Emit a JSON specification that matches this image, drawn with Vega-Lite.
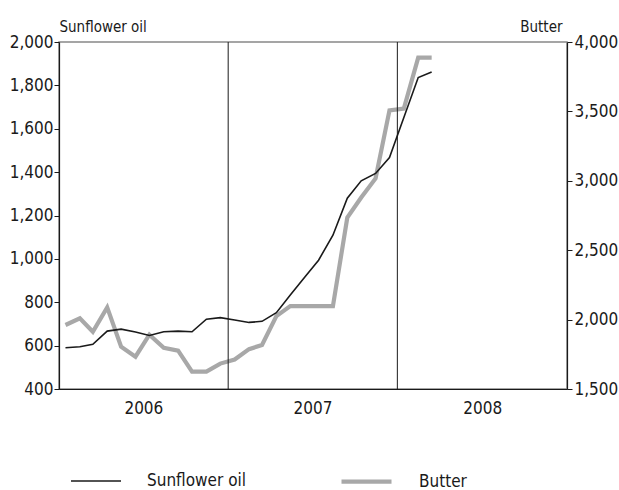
{
  "$schema": "https://vega.github.io/schema/vega-lite/v6.json",
  "width": 508,
  "height": 347,
  "autosize": {"type": "none"},
  "padding": {"left": 59, "top": 42, "right": 52, "bottom": 101},
  "background": "white",
  "config": {
    "font": "DejaVu Sans Condensed",
    "view": {"stroke": "#888888", "strokeWidth": 1.5},
    "axis": {
      "grid": false,
      "labelFont": "DejaVu Sans Condensed",
      "labelFontSize": 17,
      "labelColor": "#1a1a1a",
      "domainColor": "#1a1a1a",
      "domainWidth": 1.2,
      "tickColor": "#1a1a1a",
      "tickSize": 5,
      "titleFont": "DejaVu Sans Condensed",
      "titleFontSize": 15,
      "titleFontWeight": "normal",
      "titleColor": "#1a1a1a"
    }
  },
  "datasets": {
    "prices": [
      {"date": "2006-01-15T00:00:00", "series": "Sunflower oil", "value": 590},
      {"date": "2006-02-15T00:00:00", "series": "Sunflower oil", "value": 595},
      {"date": "2006-03-15T00:00:00", "series": "Sunflower oil", "value": 606},
      {"date": "2006-04-15T00:00:00", "series": "Sunflower oil", "value": 667},
      {"date": "2006-05-15T00:00:00", "series": "Sunflower oil", "value": 676},
      {"date": "2006-06-15T00:00:00", "series": "Sunflower oil", "value": 663},
      {"date": "2006-07-15T00:00:00", "series": "Sunflower oil", "value": 647},
      {"date": "2006-08-15T00:00:00", "series": "Sunflower oil", "value": 664},
      {"date": "2006-09-15T00:00:00", "series": "Sunflower oil", "value": 667},
      {"date": "2006-10-15T00:00:00", "series": "Sunflower oil", "value": 664},
      {"date": "2006-11-15T00:00:00", "series": "Sunflower oil", "value": 722},
      {"date": "2006-12-15T00:00:00", "series": "Sunflower oil", "value": 729},
      {"date": "2007-01-15T00:00:00", "series": "Sunflower oil", "value": 718},
      {"date": "2007-02-15T00:00:00", "series": "Sunflower oil", "value": 707},
      {"date": "2007-03-15T00:00:00", "series": "Sunflower oil", "value": 712},
      {"date": "2007-04-15T00:00:00", "series": "Sunflower oil", "value": 752},
      {"date": "2007-05-15T00:00:00", "series": "Sunflower oil", "value": 833},
      {"date": "2007-06-15T00:00:00", "series": "Sunflower oil", "value": 915},
      {"date": "2007-07-15T00:00:00", "series": "Sunflower oil", "value": 994},
      {"date": "2007-08-15T00:00:00", "series": "Sunflower oil", "value": 1109},
      {"date": "2007-09-15T00:00:00", "series": "Sunflower oil", "value": 1280},
      {"date": "2007-10-15T00:00:00", "series": "Sunflower oil", "value": 1360},
      {"date": "2007-11-15T00:00:00", "series": "Sunflower oil", "value": 1394},
      {"date": "2007-12-15T00:00:00", "series": "Sunflower oil", "value": 1467},
      {"date": "2008-01-15T00:00:00", "series": "Sunflower oil", "value": 1652},
      {"date": "2008-02-15T00:00:00", "series": "Sunflower oil", "value": 1836},
      {"date": "2008-03-15T00:00:00", "series": "Sunflower oil", "value": 1862},
      {"date": "2006-01-15T00:00:00", "series": "Butter", "value": 1961},
      {"date": "2006-02-15T00:00:00", "series": "Butter", "value": 2009},
      {"date": "2006-03-15T00:00:00", "series": "Butter", "value": 1912},
      {"date": "2006-04-15T00:00:00", "series": "Butter", "value": 2088},
      {"date": "2006-05-15T00:00:00", "series": "Butter", "value": 1805},
      {"date": "2006-06-15T00:00:00", "series": "Butter", "value": 1733},
      {"date": "2006-07-15T00:00:00", "series": "Butter", "value": 1891},
      {"date": "2006-08-15T00:00:00", "series": "Butter", "value": 1797},
      {"date": "2006-09-15T00:00:00", "series": "Butter", "value": 1776},
      {"date": "2006-10-15T00:00:00", "series": "Butter", "value": 1625},
      {"date": "2006-11-15T00:00:00", "series": "Butter", "value": 1625},
      {"date": "2006-12-15T00:00:00", "series": "Butter", "value": 1683},
      {"date": "2007-01-15T00:00:00", "series": "Butter", "value": 1712},
      {"date": "2007-02-15T00:00:00", "series": "Butter", "value": 1787},
      {"date": "2007-03-15T00:00:00", "series": "Butter", "value": 1817},
      {"date": "2007-04-15T00:00:00", "series": "Butter", "value": 2025},
      {"date": "2007-05-15T00:00:00", "series": "Butter", "value": 2097},
      {"date": "2007-06-15T00:00:00", "series": "Butter", "value": 2097},
      {"date": "2007-07-15T00:00:00", "series": "Butter", "value": 2097},
      {"date": "2007-08-15T00:00:00", "series": "Butter", "value": 2097},
      {"date": "2007-09-15T00:00:00", "series": "Butter", "value": 2735},
      {"date": "2007-10-15T00:00:00", "series": "Butter", "value": 2880},
      {"date": "2007-11-15T00:00:00", "series": "Butter", "value": 3017},
      {"date": "2007-12-15T00:00:00", "series": "Butter", "value": 3508},
      {"date": "2008-01-15T00:00:00", "series": "Butter", "value": 3520},
      {"date": "2008-02-15T00:00:00", "series": "Butter", "value": 3887},
      {"date": "2008-03-15T00:00:00", "series": "Butter", "value": 3887}
    ],
    "years": [
      {"date": "2007-01-01T00:00:00"},
      {"date": "2008-01-01T00:00:00"}
    ]
  },
  "layer": [
    {
      "data": {"name": "prices"},
      "transform": [{"filter": "datum.series === 'Butter'"}],
      "mark": {"type": "line", "strokeJoin": "miter", "strokeCap": "butt"},
      "encoding": {
        "x": {
          "field": "date", "type": "temporal",
          "scale": {"domain": [{"year": 2006, "month": 1, "date": 1}, {"year": 2009, "month": 1, "date": 1}]},
          "axis": {
            "title": null, "ticks": false, "labelPadding": 11,
            "values": [{"year": 2006, "month": 7, "date": 2}, {"year": 2007, "month": 7, "date": 2}, {"year": 2008, "month": 7, "date": 2}],
            "labelExpr": "timeFormat(datum.value, '%Y')"
          }
        },
        "y": {
          "field": "value", "type": "quantitative",
          "scale": {"domain": [1500, 4000], "nice": false, "zero": false},
          "axis": {
            "orient": "right", "title": "Butter", "values": [1500, 2000, 2500, 3000, 3500, 4000],
            "format": ",.0f", "labelPadding": 2,
            "titleAngle": 0, "titleX": -5, "titleY": -11, "titleAlign": "right", "titleBaseline": "alphabetic"
          }
        },
        "color": {
          "field": "series", "type": "nominal",
          "scale": {"domain": ["Sunflower oil", "Butter"], "range": ["#1a1a1a", "#a8a8a8"]},
          "legend": {
            "orient": "none", "legendX": 11, "legendY": 412, "direction": "horizontal",
            "symbolType": "stroke", "symbolSize": 2500, "labelOffset": 25, "columnPadding": 86,
            "labelFont": "DejaVu Sans Condensed", "labelFontSize": 17, "labelColor": "#1a1a1a", "title": null
          }
        },
        "strokeWidth": {
          "field": "series", "type": "nominal",
          "scale": {"domain": ["Sunflower oil", "Butter"], "range": [1.6, 4.2]},
          "legend": {
            "orient": "none", "legendX": 11, "legendY": 412, "direction": "horizontal",
            "symbolType": "stroke", "symbolSize": 2500, "labelOffset": 25, "columnPadding": 86,
            "labelFont": "DejaVu Sans Condensed", "labelFontSize": 17, "labelColor": "#1a1a1a", "title": null
          }
        }
      }
    },
    {
      "data": {"name": "prices"},
      "transform": [{"filter": "datum.series === 'Sunflower oil'"}],
      "mark": {"type": "line"},
      "encoding": {
        "x": {"field": "date", "type": "temporal"},
        "y": {
          "field": "value", "type": "quantitative",
          "scale": {"domain": [400, 2000], "nice": false, "zero": false},
          "axis": {
            "orient": "left", "title": "Sunflower oil", "values": [400, 600, 800, 1000, 1200, 1400, 1600, 1800, 2000],
            "format": ",.0f", "labelPadding": 1,
            "titleAngle": 0, "titleX": 0, "titleY": -11, "titleAlign": "left", "titleBaseline": "alphabetic"
          }
        },
        "color": {"field": "series", "type": "nominal"},
        "strokeWidth": {"field": "series", "type": "nominal"}
      }
    },
    {
      "data": {"name": "years"},
      "mark": {"type": "rule", "color": "#1a1a1a", "strokeWidth": 1},
      "encoding": {
        "x": {"field": "date", "type": "temporal"}
      }
    }
  ],
  "resolve": {"scale": {"y": "independent"}}
}
